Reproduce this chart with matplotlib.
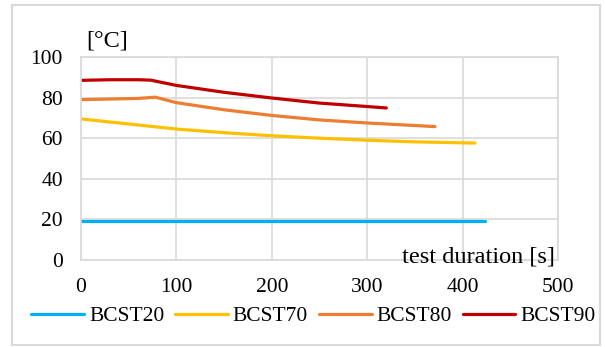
import matplotlib.pyplot as plt
from matplotlib.patches import Rectangle

# time [s] and temperature [°C] for each test
t_20 = [0, 100, 200, 300, 424]
T_20 = [19.2, 19.2, 19.2, 19.2, 19.2]

t_70 = [0, 20, 50, 80, 100, 150, 200, 250, 300, 350, 413]
T_70 = [69.5, 68.5, 67.0, 65.5, 64.5, 62.7, 61.2, 60.0, 59.0, 58.2, 57.6]

t_80 = [0, 30, 60, 78, 100, 150, 200, 250, 300, 340, 371]
T_80 = [79.0, 79.3, 79.6, 80.2, 77.5, 74.0, 71.2, 69.0, 67.5, 66.5, 65.7]

t_90 = [0, 30, 60, 73, 100, 150, 200, 250, 300, 320]
T_90 = [88.5, 88.8, 88.8, 88.6, 86.0, 82.6, 79.8, 77.3, 75.6, 74.9]

series = [
    ("BCST20", t_20, T_20, "#00b0f0"),
    ("BCST70", t_70, T_70, "#ffc000"),
    ("BCST80", t_80, T_80, "#ed7d31"),
    ("BCST90", t_90, T_90, "#c00000"),
]

plt.rcParams["font.family"] = ["Liberation Serif", "DejaVu Serif"]

W, H = 605, 347
fig = plt.figure(figsize=(W / 100, H / 100), dpi=100)
ax = fig.add_axes([81 / W, 1 - 260 / H, 477 / W, 203 / H])

for label, t, T, c in series:
    ax.plot(t, T, color=c, linewidth=2.3, label=label, solid_capstyle="round")

ax.set_xlim(0, 500)
ax.set_ylim(0, 100)
ax.set_xticks(range(0, 501, 100))
ax.set_yticks(range(0, 101, 20))
ax.grid(True, color="#d9d9d9", linewidth=1.2)
for s in ax.spines.values():
    s.set_color("#d9d9d9")
    s.set_linewidth(1.2)
ax.tick_params(length=0, labelsize=15.5, colors="#000000")
ax.tick_params(axis="y", pad=13)
ax.tick_params(axis="x", pad=13)
ax.set_axisbelow(True)

ax.text(5 / 477, 1 + 5 / 203, "[°C]", transform=ax.transAxes, fontsize=17.5,
        ha="left", va="bottom")
ax.text(1 - 3 / 477, -2 / 203, "test duration [s]", transform=ax.transAxes,
        fontsize=17.5, ha="right", va="baseline")

fig.legend(loc="center", bbox_to_anchor=(313.5 / W, 1 - 316 / H), ncol=4,
           frameon=False, fontsize=15.5, handlelength=2.45, columnspacing=0.5,
           handletextpad=0.23, borderaxespad=0, borderpad=0)

fig.patches.append(Rectangle((12 / W, 1 - 345 / H), 588 / W, 340 / H,
                             transform=fig.transFigure, fill=False,
                             edgecolor="#d9d9d9", linewidth=1.5))

fig.savefig("out.png", dpi=100)
